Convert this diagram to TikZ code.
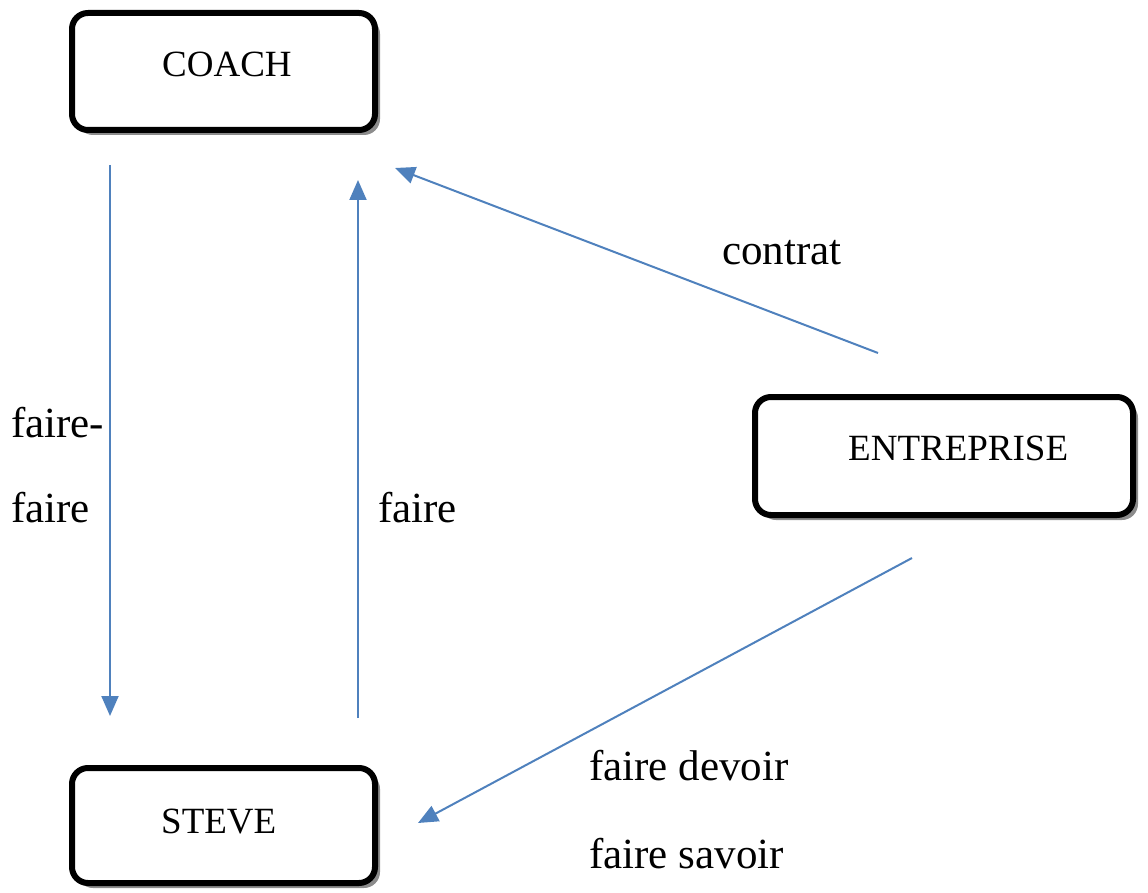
\documentclass[tikz,border=0pt]{standalone}
\usepackage{fontspec}
\setmainfont{Liberation Serif}
\usetikzlibrary{arrows.meta,shadows}
\definecolor{arrowblue}{HTML}{4F81BD}
\begin{document}
\begin{tikzpicture}[x=1pt,y=-1pt,
  box/.style={draw=black,line width=6pt,rounded corners=16pt,fill=white,
    drop shadow={shadow xshift=5pt,shadow yshift=-5pt,fill=black!45,opacity=1}},
  boxtext/.style={anchor=base west,inner sep=0pt,font=\fontsize{37}{44}\selectfont},
  lbl/.style={anchor=base west,inner sep=0pt,font=\fontsize{43}{50}\selectfont},
  link/.style={draw=arrowblue,line width=2pt,-{Triangle[length=20pt,width=17pt]}}]
\useasboundingbox (0,0) rectangle (1148,893);
% boxes
\node[box,minimum width=303pt,minimum height=117pt,inner sep=0pt] (coach) at (223.5,71.5) {};
\node[box,minimum width=378pt,minimum height=118pt,inner sep=0pt] (entreprise) at (944,456) {};
\node[box,minimum width=303pt,minimum height=115pt,inner sep=0pt] (steve) at (223.5,825.5) {};
\node[boxtext] (tcoach) at (162,77) {COACH};
\node[boxtext] (tentreprise) at (848,460) {ENTREPRISE};
\node[boxtext] (tsteve) at (161,833) {STEVE};
% arrow end points
\coordinate (a1s) at (110,165);
\coordinate (a1e) at (110,716);
\coordinate (a2s) at (358,718);
\coordinate (a2e) at (358,180);
\coordinate (a3s) at (878,353);
\coordinate (a3e) at (395,168);
\coordinate (a4s) at (912,558);
\coordinate (a4e) at (418,823);
\draw[link] (a1s) -- (a1e);
\draw[link] (a2s) -- (a2e);
\draw[link] (a3s) -- (a3e);
\draw[link] (a4s) -- (a4e);
% labels
\node[lbl] (l1) at (11,437) {faire-};
\node[lbl] (l2) at (11,522) {faire};
\node[lbl] (l3) at (378,522) {faire};
\node[lbl] (l4) at (722,265) {contrat};
\node[lbl] (l5) at (589,780) {faire devoir};
\node[lbl] (l6) at (589,868) {faire savoir};
\end{tikzpicture}
\end{document}
